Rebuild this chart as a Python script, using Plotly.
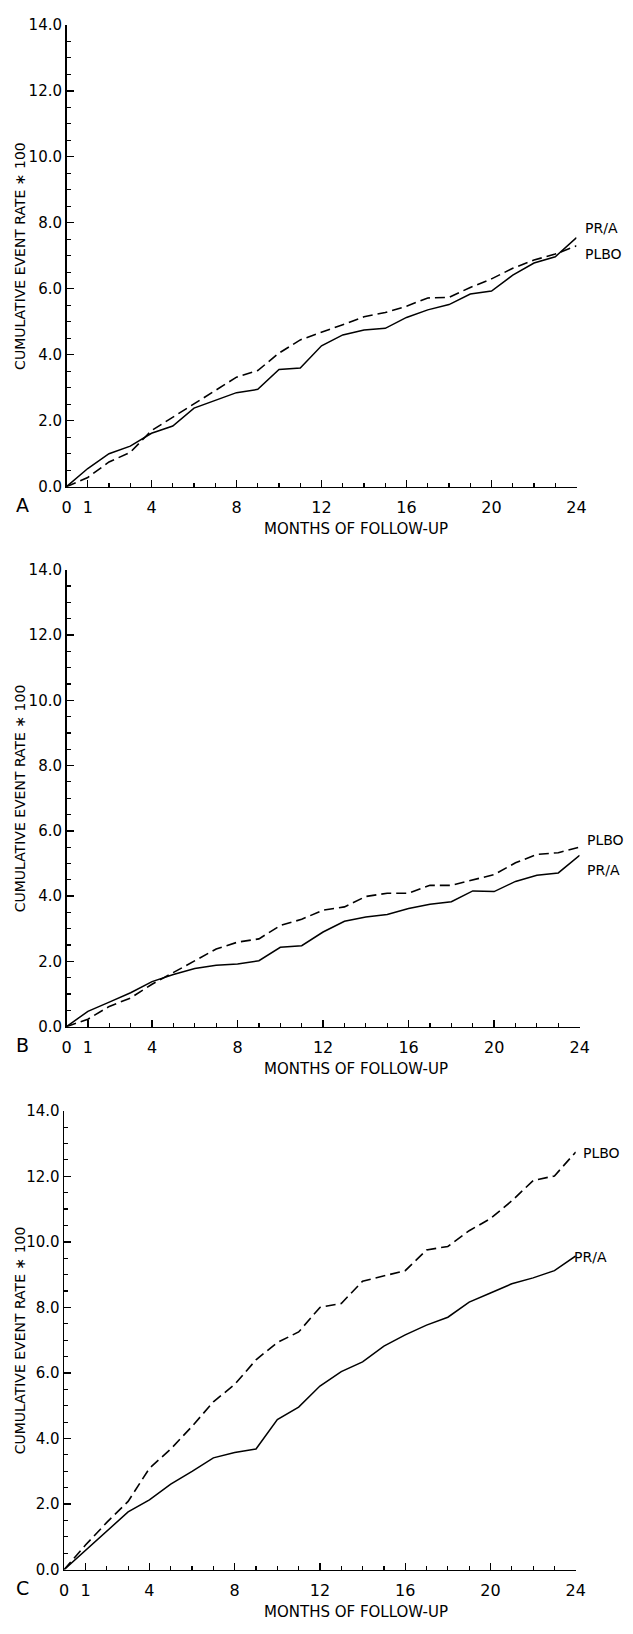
import plotly.graph_objects as go

months = list(range(0, 25))

# Panel A
a_pra = [0, 0.55, 1.0, 1.23, 1.62, 1.84, 2.38, 2.62, 2.85, 2.95, 3.55, 3.6, 4.27, 4.6, 4.75, 4.8, 5.13, 5.36, 5.52, 5.84, 5.93, 6.41, 6.78, 6.97, 7.55]
a_plbo = [0, 0.28, 0.75, 1.04, 1.7, 2.1, 2.5, 2.92, 3.32, 3.52, 4.05, 4.45, 4.67, 4.91, 5.15, 5.28, 5.47, 5.72, 5.74, 6.04, 6.3, 6.62, 6.87, 7.05, 7.3]

# Panel B
b_pra = [0, 0.47, 0.75, 1.04, 1.38, 1.6, 1.78, 1.88, 1.92, 2.02, 2.43, 2.48, 2.9, 3.23, 3.36, 3.44, 3.62, 3.75, 3.83, 4.16, 4.14, 4.45, 4.64, 4.71, 5.25]
b_plbo = [0, 0.23, 0.62, 0.88, 1.3, 1.66, 2.02, 2.38, 2.59, 2.69, 3.1, 3.29, 3.57, 3.67, 3.99, 4.09, 4.09, 4.33, 4.33, 4.5, 4.66, 5.02, 5.28, 5.33, 5.5]

# Panel C
c_pra = [0, 0.59, 1.17, 1.76, 2.13, 2.61, 3.0, 3.41, 3.57, 3.68, 4.58, 4.96, 5.6, 6.04, 6.34, 6.82, 7.16, 7.46, 7.7, 8.16, 8.44, 8.72, 8.9, 9.12, 9.57]
c_plbo = [0, 0.75, 1.44, 2.08, 3.09, 3.68, 4.37, 5.12, 5.65, 6.4, 6.93, 7.25, 8.0, 8.12, 8.8, 8.96, 9.12, 9.75, 9.86, 10.34, 10.71, 11.25, 11.87, 12.01, 12.74]

panel_letters = ["A", "B", "C"]
y_tickvals = [0, 2, 4, 6, 8, 10, 12, 14]
x_tickvals = [0, 1, 4, 8, 12, 16, 20, 24]
x_title = "MONTHS OF FOLLOW-UP"
y_title = "CUMULATIVE EVENT RATE ∗ 100"

W, H = 633, 1634
FONT = "DejaVu Sans, Liberation Sans, sans-serif"

# pixel geometry of each plot area: (x0, x1, ytop, ybottom)
geom = [
    (63.0, 585.4, 16, 483),
    (63.0, 588.6, 567, 1029),
    (60.6, 584.6, 1114, 1578),
]
# end-label pixel positions per panel: (pra_x, pra_y, plbo_x, plbo_y)
end_labels = [
    (593, 221, 593, 248),
    (595, 871, 595, 840),
    (582, 1262, 591, 1157),
]

data = [(a_pra, a_plbo), (b_pra, b_plbo), (c_pra, c_plbo)]

fig = go.Figure()
annotations = []
layout = {}
for i, ((pra, plbo), (x0, x1, yt, yb), lab) in enumerate(zip(data, geom, end_labels)):
    sfx = "" if i == 0 else str(i + 1)
    xa = "x" + sfx
    ya = "y" + sfx
    fig.add_trace(go.Scatter(x=months, y=plbo, mode="lines", xaxis=xa, yaxis=ya,
                             line=dict(color="black", width=1.6, dash="10px,5px"),
                             cliponaxis=False, showlegend=False))
    fig.add_trace(go.Scatter(x=months, y=pra, mode="lines", xaxis=xa, yaxis=ya,
                             line=dict(color="black", width=1.5),
                             cliponaxis=False, showlegend=False))
    layout["xaxis" + sfx] = dict(
        domain=[x0 / W, x1 / W], anchor=ya, range=[0, 24],
        showgrid=False, zeroline=False, showline=True, linecolor="black", linewidth=1.5,
        ticks="inside", ticklen=7, tickwidth=1.4, tickcolor="black",
        tickvals=x_tickvals, ticktext=[str(v) for v in x_tickvals],
        tickfont=dict(family=FONT, size=16, color="black"),
        ticklabelstandoff=6,
        minor=dict(dtick=1, tick0=0, ticks="inside", ticklen=4, tickwidth=1.2, tickcolor="black"),
    )
    layout["yaxis" + sfx] = dict(
        domain=[1 - yb / H, 1 - yt / H], anchor=xa, range=[0, 14],
        showgrid=False, zeroline=False, showline=True, linecolor="black", linewidth=1.5,
        ticks="inside", ticklen=7, tickwidth=1.4, tickcolor="black",
        tickvals=y_tickvals, ticktext=[f"{v:.1f}" for v in y_tickvals],
        tickfont=dict(family=FONT, size=15, color="black"),
        ticklabelstandoff=0,
        minor=dict(dtick=0.5, tick0=0, ticks="inside", ticklen=4, tickwidth=1.2, tickcolor="black"),
    )
    # y title
    annotations.append(dict(text=y_title, xref="paper", yref="paper",
                            x=15.5 / W, y=1 - (yt + yb) / 2 / H, textangle=-90,
                            showarrow=False, xanchor="center", yanchor="middle",
                            borderpad=0,
                            font=dict(family=FONT, size=14, color="black")))
    # x title
    annotations.append(dict(text=x_title, xref="paper", yref="paper",
                            x=360 / W, y=1 - (yb + 43) / H,
                            showarrow=False, xanchor="center", yanchor="middle",
                            font=dict(family=FONT, size=15, color="black")))
    # panel letter
    annotations.append(dict(text=panel_letters[i], xref="paper", yref="paper",
                            x=18 / W, y=1 - (yb + 19) / H,
                            showarrow=False, xanchor="center", yanchor="middle",
                            font=dict(family=FONT, size=19, color="black")))
    # end labels
    annotations.append(dict(text="PR/A", xref="paper", yref="paper",
                            x=lab[0] / W, y=1 - lab[1] / H,
                            showarrow=False, xanchor="left", yanchor="middle",
                            borderpad=0,
                            font=dict(family=FONT, size=14, color="black")))
    annotations.append(dict(text="PLBO", xref="paper", yref="paper",
                            x=lab[2] / W, y=1 - lab[3] / H,
                            showarrow=False, xanchor="left", yanchor="middle",
                            borderpad=0,
                            font=dict(family=FONT, size=14, color="black")))

fig.update_layout(
    width=W, height=H,
    margin=dict(l=0, r=0, t=0, b=0),
    paper_bgcolor="white", plot_bgcolor="white",
    annotations=annotations,
    showlegend=False,
    **layout,
)

fig.write_html("out.html",
               config={"displayModeBar": False, "staticPlot": True},
               post_script="document.body.style.margin='0';document.body.style.overflow='hidden';")
